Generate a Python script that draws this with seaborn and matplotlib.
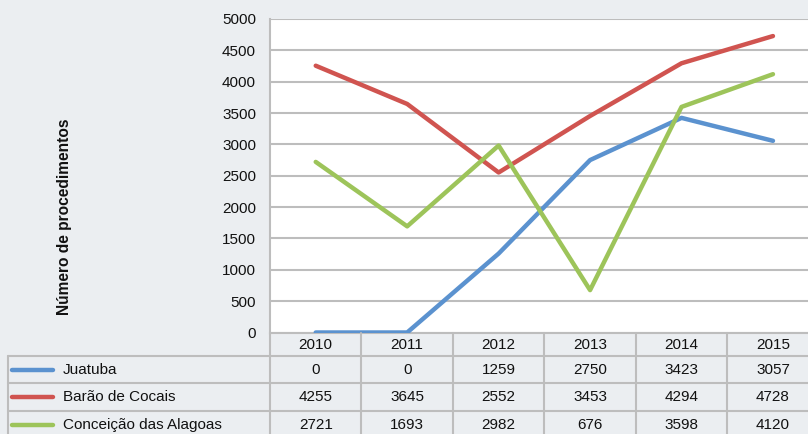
import matplotlib
matplotlib.use("Agg")
import matplotlib.pyplot as plt
import matplotlib.transforms as mtransforms
from matplotlib.lines import Line2D
import seaborn as sns
import pandas as pd

years = ["2010", "2011", "2012", "2013", "2014", "2015"]
series_names = ["Juatuba", "Barão de Cocais", "Conceição das Alagoas"]
juatuba = [0, 0, 1259, 2750, 3423, 3057]
barao = [4255, 3645, 2552, 3453, 4294, 4728]
conceicao = [2721, 1693, 2982, 676, 3598, 4120]
colors = ["#5B92CF", "#D05450", "#9DC45A"]
y_ticks = [0, 500, 1000, 1500, 2000, 2500, 3000, 3500, 4000, 4500, 5000]
y_label = "Número de procedimentos"

values = [juatuba, barao, conceicao]
rows = []
for name, vals in zip(series_names, values):
    for i, (yr, v) in enumerate(zip(years, vals)):
        rows.append({"pos": i, "year": yr, "serie": name, "valor": v})
df = pd.DataFrame(rows)

sns.set_theme(style="white")
plt.rcParams["font.family"] = ["Liberation Sans", "DejaVu Sans"]

W, H = 808, 434
BG = "#EBEEF1"
GRID = "#BDBDBD"
fig = plt.figure(figsize=(W / 100, H / 100), dpi=100, facecolor=BG)

def fx(x):
    return x / W

def fy(y):
    return 1 - y / H

ax_left, ax_right, ax_top, ax_bot = 270, 818.7, 19, 332.5
ax = fig.add_axes([fx(ax_left), fy(ax_bot), (ax_right - ax_left) / W, (ax_bot - ax_top) / H])
ax.set_facecolor("white")

sns.lineplot(data=df, x="pos", y="valor", hue="serie", hue_order=series_names,
             palette=colors, linewidth=3.2, ax=ax, legend=False, zorder=3)

ax.set_xlim(-0.5, len(years) - 0.5)
ax.set_ylim(0, 5000)
ax.set_yticks(y_ticks)
ax.set_yticklabels([str(t) for t in y_ticks], fontsize=11, color="#111111")
ax.set_xticks([])
ax.tick_params(axis="y", length=0, pad=10)
ax.yaxis.grid(True, color=GRID, linewidth=1.5)
ax.set_axisbelow(True)
for s in ["top", "right"]:
    ax.spines[s].set_visible(False)
ax.spines["left"].set_color(GRID)
ax.spines["left"].set_linewidth(1.5)
ax.spines["bottom"].set_color(GRID)
ax.spines["bottom"].set_linewidth(1.5)
ax.set_xlabel("")
ax.set_ylabel("")

fig.text(fx(65), fy(217), y_label, rotation=90, ha="center", va="center",
         fontsize=11.2, fontweight="bold", color="#111111")

# data table below the chart
blend = mtransforms.blended_transform_factory(ax.transData, fig.transFigure)
row_lines = [355.5, 383, 411, 439]
header_center = 345
row_centers = [369.5, 397, 425]
lw = 1.5

for i, yl in enumerate(row_lines):
    fig.add_artist(Line2D([fx(7.5), fx(ax_right)], [fy(yl), fy(yl)], color=GRID, lw=lw))
fig.add_artist(Line2D([fx(7.5), fx(7.5)], [fy(row_lines[0]), fy(H + 10)], color=GRID, lw=lw))
for k in range(len(years) + 1):
    xb = k - 0.5
    line = Line2D([xb, xb], [fy(ax_bot), fy(H + 10)], color=GRID, lw=lw, transform=blend)
    line.set_clip_on(False)
    fig.add_artist(line)

for i, yr in enumerate(years):
    fig.text(i, fy(header_center), yr, transform=blend, ha="center", va="center",
             fontsize=11, color="#111111")

for r, (name, vals, c) in enumerate(zip(series_names, values, colors)):
    yc = fy(row_centers[r])
    fig.add_artist(Line2D([fx(12), fx(53)], [yc, yc], color=c, lw=3.2, solid_capstyle="round"))
    fig.text(fx(63), yc, name, ha="left", va="center", fontsize=11, color="#111111")
    for i, v in enumerate(vals):
        fig.text(i, yc, str(v), transform=blend, ha="center", va="center",
                 fontsize=11, color="#111111")

fig.savefig("out.png", dpi=100, facecolor=BG)
